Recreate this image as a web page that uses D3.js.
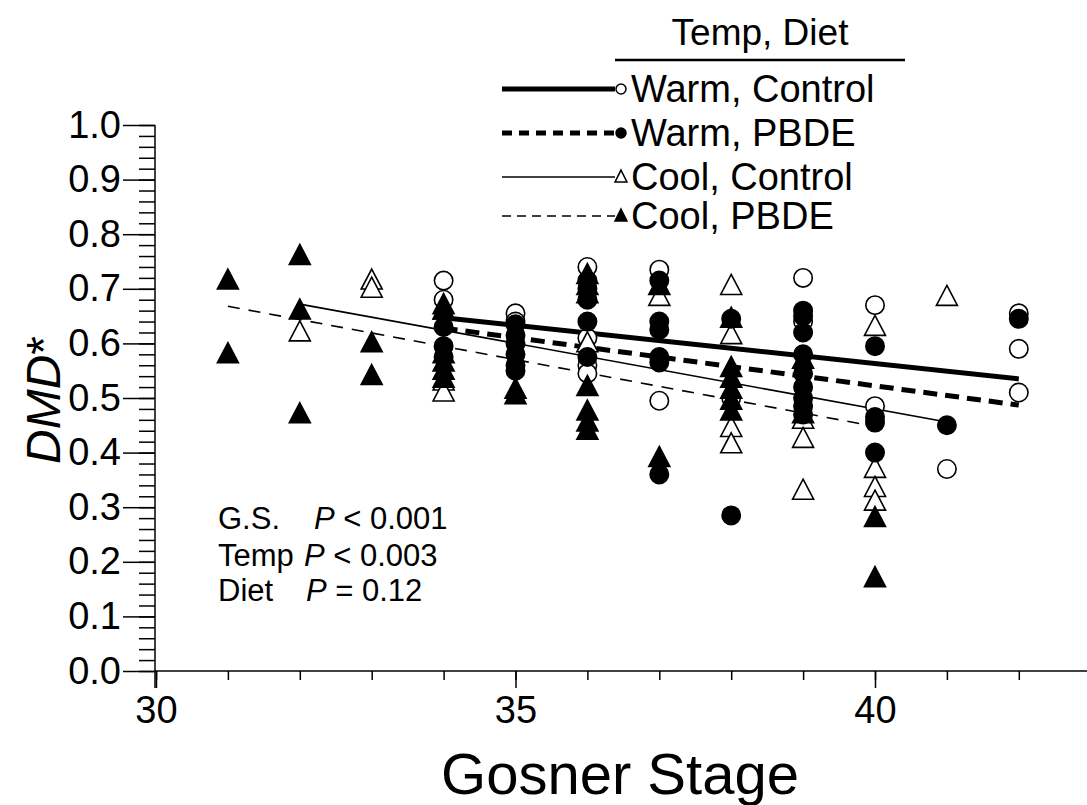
<!DOCTYPE html>
<html><head><meta charset="utf-8">
<script src="https://cdn.jsdelivr.net/npm/d3@7"></script>
<style>body{margin:0;background:#fff}svg{display:block;font-family:"Liberation Sans",Arial,sans-serif}</style>
</head><body><svg id="c" width="1087" height="805"></svg>
<script>
// ---- data ----
const warmControl = [[34,0.715],[34,0.68],[35,0.655],[35,0.64],[36,0.74],[36,0.61],[36,0.56],[36,0.545],[37,0.735],[37,0.495],[38,0.50],[39,0.72],[39,0.64],[40,0.67],[40,0.485],[41,0.37],[42,0.655],[42,0.59],[42,0.51]];
const warmPBDE = [[34,0.63],[34,0.595],[34,0.575],[35,0.635],[35,0.615],[35,0.60],[35,0.58],[35,0.56],[35,0.55],[36,0.715],[36,0.70],[36,0.68],[36,0.64],[36,0.575],[37,0.715],[37,0.64],[37,0.625],[37,0.575],[37,0.565],[37,0.36],[38,0.645],[38,0.285],[39,0.66],[39,0.65],[39,0.62],[39,0.58],[39,0.545],[39,0.52],[39,0.50],[39,0.485],[39,0.47],[40,0.595],[40,0.465],[40,0.455],[40,0.40],[41,0.45],[42,0.645]];
const coolControl = [[32,0.62],[33,0.715],[33,0.70],[34,0.66],[34,0.53],[34,0.51],[36,0.60],[37,0.685],[38,0.705],[38,0.615],[38,0.445],[38,0.415],[39,0.46],[39,0.425],[39,0.33],[40,0.63],[40,0.37],[40,0.335],[40,0.31],[41,0.685]];
const coolPBDE = [[31,0.715],[31,0.58],[32,0.76],[32,0.66],[32,0.47],[33,0.60],[33,0.54],[34,0.67],[34,0.66],[34,0.58],[34,0.565],[34,0.55],[34,0.535],[35,0.515],[35,0.505],[36,0.725],[36,0.705],[36,0.69],[36,0.52],[36,0.475],[36,0.455],[36,0.44],[37,0.705],[37,0.39],[38,0.645],[38,0.555],[38,0.535],[38,0.515],[38,0.495],[38,0.475],[39,0.57],[39,0.47],[40,0.28],[40,0.17]];
// regression line endpoints
const fitWarmControl = [[34,0.647],[42,0.535]];
const fitWarmPBDE = [[34,0.628],[42,0.487]];
const fitCoolControl = [[32,0.672],[41,0.456]];
const fitCoolPBDE = [[31,0.668],[40,0.448]];
const xTickLabels = [30,35,40];
const yTickLabels = [0,0.1,0.2,0.3,0.4,0.5,0.6,0.7,0.8,0.9,1.0];
const legendLabels = ["Warm, Control","Warm, PBDE","Cool, Control","Cool, PBDE"];
const statLabels = ["G.S.","Temp","Diet"];
const statTexts = [" < 0.001"," < 0.003"," = 0.12"];

// ---- drawing ----
const svg = d3.select("#c");
const x = d3.scaleLinear().domain([30,43]).range([156,156+13*71.9]);
const y = d3.scaleLinear().domain([0,1]).range([671,125]);

// y axis
const gy = svg.append("g").attr("transform","translate(155,0)");
gy.call(d3.axisLeft(y).tickValues(d3.range(0,1.0001,0.02)).tickSize(16).tickFormat(""));
gy.append("g").call(d3.axisLeft(y).tickValues(yTickLabels).tickSize(32).tickFormat(d3.format(".1f")));
gy.selectAll(".domain").remove();
gy.append("line").attr("x1",0).attr("x2",0).attr("y1",y(1)).attr("y2",688).attr("stroke","#000").attr("stroke-width",1.5);
gy.selectAll("line").attr("stroke","#000").attr("stroke-width",1.5);
gy.selectAll("text").attr("font-size",38).attr("fill","#000").attr("x",-34).attr("font-family","Liberation Sans, Arial, sans-serif");

// x axis
const gx = svg.append("g").attr("transform","translate(0,671)");
gx.call(d3.axisBottom(x).tickValues(d3.range(30,43)).tickSize(9).tickFormat(""));
gx.append("g").call(d3.axisBottom(x).tickValues(xTickLabels).tickSize(17).tickFormat(d3.format("d")));
gx.selectAll(".domain").remove();
gx.append("line").attr("x1",155).attr("x2",1087).attr("y1",0).attr("y2",0).attr("stroke","#000").attr("stroke-width",1.5);
gx.selectAll("line").attr("stroke","#000").attr("stroke-width",1.5);
gx.selectAll("text").attr("font-size",38).attr("fill","#000").attr("y",25).attr("font-family","Liberation Sans, Arial, sans-serif");

// axis titles
svg.append("text").attr("x",620).attr("y",794).attr("text-anchor","middle").attr("font-size",58).text("Gosner Stage");
const yt = svg.append("text").attr("transform","translate(60,400) rotate(-90)").attr("text-anchor","middle").attr("font-size",48);
yt.append("tspan").attr("font-style","italic").text("DMD");
yt.append("tspan").text("*");

// fit lines
const lineGen = d3.line().x(d=>x(d[0])).y(d=>y(d[1]));
const fits = [
  {d:fitWarmControl, w:5, dash:null},
  {d:fitWarmPBDE, w:5, dash:"14,8"},
  {d:fitCoolControl, w:1.6, dash:null},
  {d:fitCoolPBDE, w:1.6, dash:"12,9"}
];
fits.forEach(f=>{
  svg.append("path").attr("d",lineGen(f.d)).attr("fill","none").attr("stroke","#000")
    .attr("stroke-width",f.w).attr("stroke-dasharray",f.dash);
});

// markers
const triPath = (w,h)=>`M0,${-h*0.58}L${w/2},${h*0.42}L${-w/2},${h*0.42}Z`;
function circles(data, filled){
  svg.append("g").selectAll("circle").data(data).join("circle")
    .attr("cx",d=>x(d[0])).attr("cy",d=>y(d[1])).attr("r",9.2)
    .attr("fill",filled?"#000":"#fff").attr("stroke","#000").attr("stroke-width",1.6);
}
function tris(data, filled){
  svg.append("g").selectAll("path").data(data).join("path")
    .attr("transform",d=>`translate(${x(d[0])},${y(d[1])})`).attr("d",triPath(21,20))
    .attr("fill",filled?"#000":"#fff").attr("stroke","#000").attr("stroke-width",1.6).attr("stroke-linejoin","miter");
}
circles(warmControl,false);
tris(coolControl,false);
circles(warmPBDE,true);
tris(coolPBDE,true);

// stats text
const statY = [529,566,601], statPx = [314,304,306];
statLabels.forEach((lab,i)=>{
  svg.append("text").attr("x",218).attr("y",statY[i]).attr("font-size",31).text(lab);
  const t = svg.append("text").attr("x",statPx[i]).attr("y",statY[i]).attr("font-size",31);
  t.append("tspan").attr("font-style","italic").text("P");
  t.append("tspan").style("white-space","pre").text(statTexts[i]);
});

// legend
svg.append("text").attr("x",760).attr("y",45).attr("text-anchor","middle").attr("font-size",37).text("Temp, Diet");
svg.append("line").attr("x1",615).attr("x2",905).attr("y1",60).attr("y2",60).attr("stroke","#000").attr("stroke-width",2.5);
const legY = [89,133,177,216];
const legStyles = [
  {w:5,dash:null,shape:"c",fill:false},
  {w:5,dash:"10,7",shape:"c",fill:true},
  {w:1.6,dash:null,shape:"t",fill:false},
  {w:1.6,dash:"9,6",shape:"t",fill:true}
];
legendLabels.forEach((lab,i)=>{
  const s = legStyles[i], yy = legY[i];
  svg.append("line").attr("x1",502).attr("x2",615).attr("y1",yy).attr("y2",yy)
    .attr("stroke","#000").attr("stroke-width",s.w).attr("stroke-dasharray",s.dash);
  if(s.shape==="c"){
    svg.append("circle").attr("cx",621).attr("cy",yy).attr("r",5).attr("fill",s.fill?"#000":"#fff").attr("stroke","#000").attr("stroke-width",1.5);
  } else {
    svg.append("path").attr("transform",`translate(621,${yy})`).attr("d",triPath(12,12)).attr("fill",s.fill?"#000":"#fff").attr("stroke","#000").attr("stroke-width",1.5);
  }
  svg.append("text").attr("x",631).attr("y",yy+13).attr("font-size",38).text(lab);
});
</script></body></html>
